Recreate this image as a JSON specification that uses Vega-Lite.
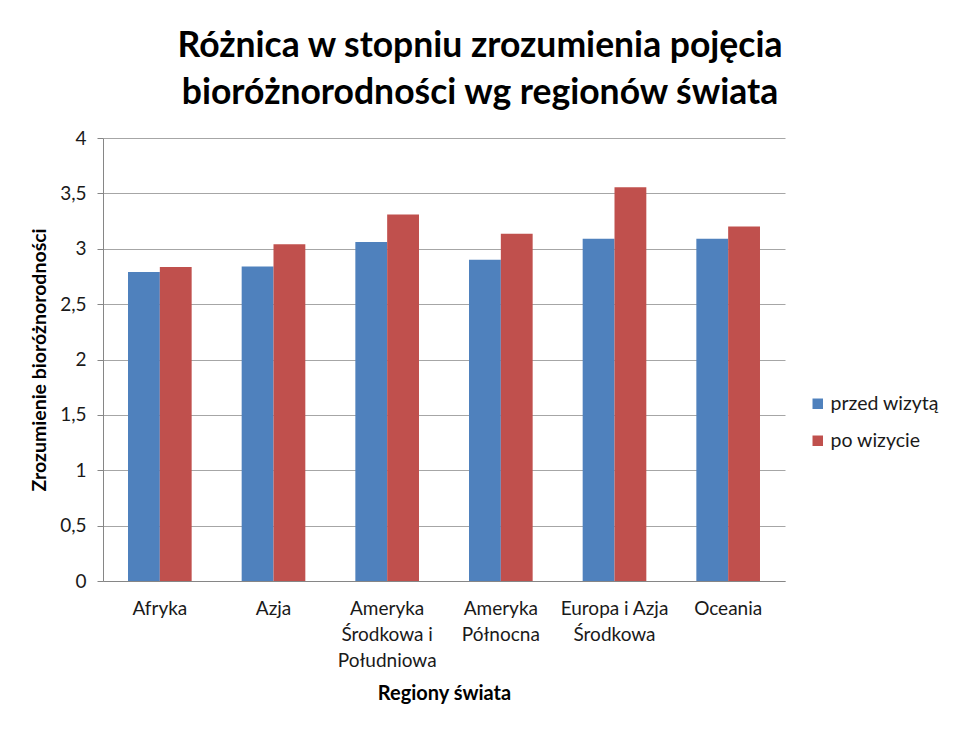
{
  "$schema": "https://vega.github.io/schema/vega-lite/v6.json",
  "width": 682,
  "height": 443,
  "autosize": {"type": "none"},
  "padding": {"left": 103, "top": 138, "right": 175, "bottom": 152},
  "background": "white",
  "title": {
    "text": ["Różnica w stopniu zrozumienia  pojęcia", "bioróżnorodności wg regionów świata"],
    "anchor": "middle",
    "frame": "group",
    "dx": 36,
    "offset": 18,
    "font": "Lato",
    "fontSize": 35.5,
    "fontWeight": "bold",
    "color": "#000000",
    "lineHeight": 47
  },
  "data": {
    "values": [
      {"region": "Afryka", "series": "przed wizytą", "value": 2.79},
      {"region": "Afryka", "series": "po wizycie", "value": 2.835},
      {"region": "Azja", "series": "przed wizytą", "value": 2.84},
      {"region": "Azja", "series": "po wizycie", "value": 3.04},
      {"region": "Ameryka Środkowa i Południowa", "series": "przed wizytą", "value": 3.06},
      {"region": "Ameryka Środkowa i Południowa", "series": "po wizycie", "value": 3.31},
      {"region": "Ameryka Północna", "series": "przed wizytą", "value": 2.9},
      {"region": "Ameryka Północna", "series": "po wizycie", "value": 3.135},
      {"region": "Europa i Azja Środkowa", "series": "przed wizytą", "value": 3.09},
      {"region": "Europa i Azja Środkowa", "series": "po wizycie", "value": 3.555},
      {"region": "Oceania", "series": "przed wizytą", "value": 3.09},
      {"region": "Oceania", "series": "po wizycie", "value": 3.2}
    ]
  },
  "mark": {"type": "bar"},
  "encoding": {
    "x": {
      "field": "region",
      "type": "nominal",
      "sort": null,
      "scale": {"paddingInner": 0.44, "paddingOuter": 0.22},
      "axis": {
        "title": "Regiony świata",
        "titleFont": "Lato",
        "titleFontSize": 20,
        "titleFontWeight": "bold",
        "titleColor": "#000000",
        "titlePadding": 13,
        "labelAngle": 0,
        "labelFont": "Lato",
        "labelFontSize": 19,
        "labelColor": "#1a1a1a",
        "labelPadding": 18,
        "labelLineHeight": 26,
        "labelLimit": 200,
        "labelExpr": "datum.label == 'Ameryka Środkowa i Południowa' ? ['Ameryka', 'Środkowa i', 'Południowa'] : datum.label == 'Ameryka Północna' ? ['Ameryka', 'Północna'] : datum.label == 'Europa i Azja Środkowa' ? ['Europa i Azja', 'Środkowa'] : datum.label",
        "ticks": false,
        "domainColor": "#868686",
        "grid": false
      }
    },
    "xOffset": {"field": "series", "type": "nominal", "sort": ["przed wizytą", "po wizycie"], "scale": {"paddingInner": 0, "paddingOuter": 0}},
    "y": {
      "field": "value",
      "type": "quantitative",
      "scale": {"domain": [0, 4], "nice": false, "zero": true},
      "axis": {
        "title": "Zrozumienie bioróżnorodności",
        "titleFont": "Lato",
        "titleFontSize": 19.5,
        "titleFontWeight": "bold",
        "titleColor": "#000000",
        "titlePadding": 10,
        "values": [0, 0.5, 1, 1.5, 2, 2.5, 3, 3.5, 4],
        "labelExpr": "replace(format(datum.value, ''), '.', ',')",
        "labelFont": "Lato",
        "labelFontSize": 19,
        "labelColor": "#1a1a1a",
        "labelPadding": 11,
        "tickSize": 6,
        "tickColor": "#868686",
        "domainColor": "#868686",
        "grid": true,
        "gridColor": "#a6a6a6"
      }
    },
    "color": {
      "field": "series",
      "type": "nominal",
      "sort": ["przed wizytą", "po wizycie"],
      "scale": {"domain": ["przed wizytą", "po wizycie"], "range": ["#4F81BD", "#C0504D"]},
      "legend": {
        "title": null,
        "orient": "none",
        "legendX": 705,
        "legendY": 256,
        "symbolType": "square",
        "symbolSize": 110,
        "symbolStrokeWidth": 0,
        "labelFont": "Lato",
        "labelFontSize": 19.5,
        "labelColor": "#1a1a1a",
        "labelOffset": 3,
        "rowPadding": 16
      }
    }
  },
  "config": {"view": {"stroke": null}}
}
